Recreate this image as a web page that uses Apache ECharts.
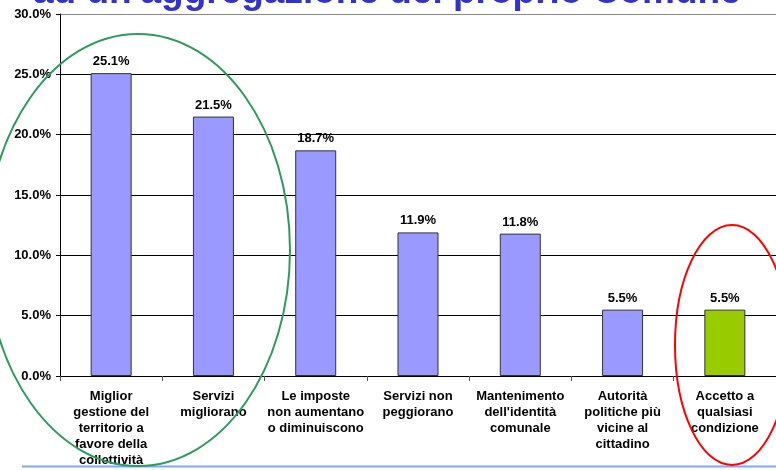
<!DOCTYPE html>
<html><head><meta charset="utf-8">
<script src="https://cdn.jsdelivr.net/npm/echarts@6/dist/echarts.min.js"></script>
<style>html,body{margin:0;padding:0;background:#fff}#c{width:776px;height:470px}</style>
</head><body><div id="c"></div>
<script>
const categories = [
  "Miglior\ngestione del\nterritorio a\nfavore della\ncollettività",
  "Servizi\nmigliorano",
  "Le imposte\nnon aumentano\no diminuiscono",
  "Servizi non\npeggiorano",
  "Mantenimento\ndell'identità\ncomunale",
  "Autorità\npolitiche più\nvicine al\ncittadino",
  "Accetto a\nqualsiasi\ncondizione"
];
const values = [25.1, 21.5, 18.7, 11.9, 11.8, 5.5, 5.5];
const barColors = ["#9999FF","#9999FF","#9999FF","#9999FF","#9999FF","#9999FF","#99CC00"];
const titleText = "ad un'aggregazione del proprio Comune";

const chart = echarts.init(document.getElementById('c'), null, {renderer:'canvas'});
const font = "Liberation Sans, Arial, sans-serif";
chart.setOption({
  animation: false,
  grid: {left: 60, top: 14, width: 721, height: 362},
  xAxis: {
    type: 'category', data: categories, boundaryGap: true,
    axisLine: {lineStyle: {color: '#000', width: 1}},
    axisTick: {show: true, length: 5, lineStyle: {color: '#555'}},
    axisLabel: {interval: 0, margin: 12, fontFamily: font, fontWeight: 'bold', fontSize: 13, color: '#000', lineHeight: 16, align: 'center'}
  },
  yAxis: {
    type: 'value', min: 0, max: 30, interval: 5,
    axisLine: {show: true, lineStyle: {color: '#000'}},
    axisTick: {show: true, length: 4, inside: false, lineStyle: {color: '#000'}},
    axisLabel: {margin: 9, fontFamily: font, fontWeight: 'bold', fontSize: 13, color: '#000',
      formatter: v => v.toFixed(1) + '%'},
    splitLine: {show: true, lineStyle: {color: ['#000','#000','#000','#000','#000','#000','#888'], width: 1}}
  },
  series: [{
    type: 'bar', barWidth: 41,
    data: values.map((v, i) => ({value: v, itemStyle: {color: barColors[i]}})),
    itemStyle: {borderColor: '#333', borderWidth: 1},
    label: {show: true, position: 'top', distance: 5, fontFamily: font, fontWeight: 'bold', fontSize: 13, color: '#000',
      formatter: p => p.value.toFixed(1) + '%'}
  }],
  graphic: [
    {type: 'text', left: 33, top: -26, z: 10,
     style: {text: titleText, fill: '#3333CC', font: 'bold 37px ' + font}},
    {type: 'ellipse', shape: {cx: 138, cy: 250, rx: 152, ry: 216}, z: 20,
     style: {fill: 'none', stroke: '#2E9B5E', lineWidth: 2}},
    {type: 'ellipse', shape: {cx: 732, cy: 345, rx: 57, ry: 120}, z: 20,
     style: {fill: 'none', stroke: '#FF0000', lineWidth: 2}},
    {type: 'line', shape: {x1: 22, y1: 466.5, x2: 776, y2: 466.5}, z: 5,
     style: {stroke: '#7FA7F5', lineWidth: 2}}
  ]
});
</script></body></html>
